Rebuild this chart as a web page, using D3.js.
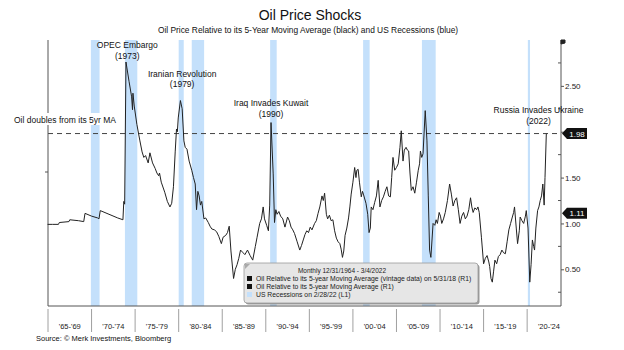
<!DOCTYPE html>
<html>
<head>
<meta charset="utf-8">
<script src="https://cdn.jsdelivr.net/npm/d3@7"></script>
<style>
body { margin: 0; background: #fff; }
text { font-family: "Liberation Sans", Arial, sans-serif; }
</style>
</head>
<body>
<script>
// oil price / 5yr moving average, monthly-ish readings
var years = [1964.95,1965.5,1966.2,1966.3,1967.4,1967.5,1968.5,1969.1,1969.25,1970.0,1970.7,1970.85,1971.0,1972.0,1973.0,1973.6,1973.7,1973.8,1973.95,
	1974.3,1974.6,1974.7,1974.75,1974.9,1975.2,1975.55,1975.8,1976.0,1976.2,1976.5,1976.7,1977.0,1977.3,1977.5,1977.7,1977.8,1978.0,1978.4,1978.7,
	1979.0,1979.2,1979.4,1979.6,1979.75,1979.85,1979.95,1980.2,1980.4,1980.6,1980.75,1980.95,1981.2,1981.5,1981.7,1981.9,1982.05,1982.2,1982.35,
	1982.5,1982.65,1982.9,1983.1,1983.4,1983.6,1983.8,1984.1,1984.35,1984.6,1984.9,1985.1,1985.4,1985.6,1985.8,1986.0,1986.3,1986.5,1986.7,1986.9,
	1987.1,1987.4,1987.6,1987.9,1988.2,1988.5,1988.8,1989.0,1989.3,1989.5,1989.7,1989.85,1990.1,1990.3,1990.45,1990.6,1990.85,1991.0,1991.15,1991.3,
	1991.5,1991.7,1991.95,1992.2,1992.5,1992.7,1992.9,1993.1,1993.3,1993.6,1993.9,1994.1,1994.3,1994.5,1994.7,1994.9,1995.1,1995.3,1995.6,1995.8,
	1996.0,1996.2,1996.45,1996.6,1996.75,1996.95,1997.1,1997.3,1997.5,1997.7,1997.9,1998.1,1998.3,1998.5,1998.65,1998.8,1998.95,1999.1,1999.3,
	1999.5,1999.65,1999.8,2000.0,2000.2,2000.35,2000.45,2000.6,2000.75,2000.96,2001.1,2001.2,2001.5,2001.7,2001.85,2002.0,2002.1,2002.3,2002.5,
	2002.7,2002.9,2003.1,2003.3,2003.5,2003.7,2003.9,2004.1,2004.3,2004.45,2004.6,2004.8,2005.0,2005.2,2005.4,2005.55,2005.75,2005.9,2006.1,
	2006.25,2006.4,2006.55,2006.7,2006.9,2007.1,2007.3,2007.5,2007.65,2007.75,2007.9,2008.05,2008.3,2008.5,2008.65,2008.8,2008.95,2009.2,2009.4,
	2009.55,2009.7,2009.9,2010.05,2010.2,2010.4,2010.6,2010.85,2011.1,2011.3,2011.5,2011.7,2011.9,2012.1,2012.3,2012.5,2012.7,2012.9,2013.1,
	2013.3,2013.5,2013.65,2013.8,2014.0,2014.2,2014.35,2014.5,2014.75,2015.0,2015.2,2015.4,2015.6,2015.7,2015.85,2016.0,2016.15,2016.3,2016.5,
	2016.7,2016.9,2017.1,2017.3,2017.5,2017.7,2017.9,2018.1,2018.3,2018.45,2018.55,2018.75,2018.9,2019.1,2019.2,2019.4,2019.6,2019.8,2019.9,
	2020.1,2020.3,2020.45,2020.6,2020.75,2020.85,2021.0,2021.2,2021.35,2021.5,2021.65,2021.8,2021.95,2022.05,2022.2];
var ratio = [0.99,0.99,0.99,1.01,1.02,1.04,1.03,1.02,1.11,1.08,1.06,1.05,1.14,1.10,1.06,1.04,1.24,1.21,2.76,
	2.55,2.38,2.24,2.42,2.28,2.08,1.90,1.78,1.72,1.74,1.66,1.77,1.66,1.60,1.55,1.52,1.55,1.45,1.34,1.24,
	1.18,1.22,1.40,1.78,2.03,2.00,2.15,2.34,2.25,1.90,1.83,1.81,1.68,1.58,1.50,1.43,1.15,1.35,1.30,
	1.20,1.24,1.05,1.06,1.01,0.97,0.94,0.93,0.91,0.86,0.78,0.85,0.87,0.90,0.97,0.70,0.40,0.50,0.55,0.62,
	0.71,0.68,0.66,0.71,0.65,0.60,0.75,0.85,1.00,1.05,1.18,1.05,0.98,0.92,1.20,2.10,1.54,1.01,1.15,1.10,
	1.13,1.08,1.05,0.96,1.07,1.03,0.96,0.93,0.89,0.80,0.71,0.76,0.82,0.88,0.92,0.90,0.96,0.93,1.00,1.03,
	1.11,1.18,1.30,1.25,1.33,1.10,1.05,1.09,1.03,1.04,0.92,0.84,0.80,0.78,0.72,0.63,0.70,0.87,0.95,
	1.06,1.18,1.32,1.45,1.61,1.50,1.58,1.59,1.45,1.29,1.35,1.32,1.22,1.10,0.90,0.95,1.18,1.15,1.23,
	1.30,1.47,1.18,1.25,1.29,1.35,1.40,1.30,1.29,1.50,1.72,1.58,1.61,1.65,1.83,2.01,1.68,1.80,1.83,
	1.80,1.79,1.55,1.36,1.40,1.33,1.45,1.58,1.65,1.79,1.72,1.76,2.23,1.90,1.30,0.71,0.63,1.00,0.98,
	1.04,1.00,1.12,1.08,1.00,1.05,1.12,1.25,1.43,1.32,1.19,1.25,1.28,1.15,1.00,1.08,1.12,1.05,1.08,
	1.15,1.28,1.18,1.12,1.17,1.15,1.18,1.12,0.85,0.56,0.62,0.65,0.58,0.53,0.40,0.36,0.48,0.60,0.56,
	0.64,0.66,0.71,0.68,0.67,0.80,0.93,1.00,1.07,1.12,1.18,0.95,0.78,0.92,1.07,1.03,1.00,1.08,1.14,
	0.95,0.36,0.55,0.82,0.75,0.71,0.95,1.14,1.18,1.25,1.30,1.43,1.20,1.50,1.98];

// US recessions
var recStart = [1969.92, 1973.83, 1980.0, 1981.5, 1990.5, 2001.17, 2007.92, 2020.08];
var recEnd = [1970.92, 1975.25, 1980.58, 1982.92, 1991.25, 2001.92, 2009.5, 2020.33];

var periodStart = [1965, 1970, 1975, 1980, 1985, 1990, 1995, 2000, 2005, 2010, 2015, 2020];
var periodLabels = ["'65-'69", "'70-'74", "'75-'79", "'80-'84", "'85-'89", "'90-'94", "'95-'99",
	"'00-'04", "'05-'09", "'10-'14", "'15-'19", "'20-'24"];

var yTicks = [0.5, 1.0, 1.5, 2.0, 2.5];
var yMinor = [0.25, 0.75, 1.25, 1.75, 2.25, 2.75];

var events = ["OPEC Embargo", "Iranian Revolution", "Iraq Invades Kuwait", "Russia Invades Ukraine"];
var eventYears = ["(1973)", "(1979)", "(1990)", "(2022)"];
var eventAt = [1974.1, 1980.4, 1990.6, 2021.3];
var eventVal = [2.91, 2.6, 2.28, 2.2];

var doubleLine = 1.98, lastVintage = 1.11;

var W = 624, H = 350;
var pL = 48, pR = 561, pT = 40, pB = 306;

var x = d3.scaleLinear()
	.domain([1965, 2024])
	.range([pL, pR + 1]);

var y = d3.scaleLinear()
	.domain([0.1, 3.0])
	.range([pB, pT]);

var svg = d3.select('body')
	.append('svg')
	.attr('width', W)
	.attr('height', H);

// title
svg.append('text')
	.attr('x', 310).attr('y', 20)
	.attr('text-anchor', 'middle')
	.attr('font-size', '14px')
	.attr('fill', '#111')
	.text('Oil Price Shocks');

svg.append('text')
	.attr('x', 308).attr('y', 33)
	.attr('text-anchor', 'middle')
	.attr('font-size', '8.4px')
	.attr('fill', '#111')
	.text('Oil Price Relative to its 5-Year Moving Average (black) and US Recessions (blue)');

// recession bars
svg.append('g').selectAll('rect')
	.data(recStart)
	.enter().append('rect')
		.attr('x', function(d) { return x(d); })
		.attr('y', pT)
		.attr('width', function(d, i) { return x(recEnd[i]) - x(d); })
		.attr('height', pB - pT)
		.attr('fill', '#c4e0fb');

// dashed "doubles" line
svg.append('line')
	.attr('x1', pL).attr('x2', pR)
	.attr('y1', y(doubleLine)).attr('y2', y(doubleLine))
	.attr('stroke', '#444')
	.attr('stroke-width', 1)
	.attr('stroke-dasharray', '5,4');

// axes frame
svg.append('line')
	.attr('x1', pL).attr('x2', pL)
	.attr('y1', pT).attr('y2', pB)
	.attr('stroke', '#555');
svg.append('line')
	.attr('x1', pL).attr('x2', pR)
	.attr('y1', pB).attr('y2', pB)
	.attr('stroke', '#555');
svg.append('line')
	.attr('x1', pL - 3).attr('x2', pL)
	.attr('y1', 172).attr('y2', 172)
	.attr('stroke', '#555');

// right axis (2.00 label sits under the 1.98 tag)
var yAxis = d3.axisRight(y)
	.tickValues(yTicks)
	.tickSize(3)
	.tickFormat(function(d) { return d == 2 ? '' : d3.format('.2f')(d); });

var ra = svg.append('g')
	.attr('transform', 'translate(' + pR + ',0)')
	.call(yAxis);
ra.select('.domain').attr('d', 'M0,' + pT + 'V' + pB).attr('stroke', '#555');
ra.selectAll('line').attr('stroke', '#555');
ra.selectAll('text')
	.attr('font-family', '"DejaVu Sans", sans-serif')
	.attr('font-size', '8px')
	.attr('fill', '#222')
	.attr('x', 4);

svg.append('g').selectAll('line')
	.data(yMinor)
	.enter().append('line')
		.attr('x1', pR - 3).attr('x2', pR)
		.attr('y1', function(d) { return y(d); })
		.attr('y2', function(d) { return y(d); })
		.attr('stroke', '#555');

svg.append('path')
	.attr('d', 'M' + pR + ',' + (pT + 4) + 'V' + pT + 'H' + (pR + 4) + 'V' + (pT + 3) + 'Z')
	.attr('fill', '#222').attr('stroke', '#222');

// bottom period separators + labels
svg.append('g').selectAll('line')
	.data(periodStart)
	.enter().append('line')
		.attr('x1', function(d) { return x(d); })
		.attr('x2', function(d) { return x(d); })
		.attr('y1', pB + 3).attr('y2', pB + 26)
		.attr('stroke', '#888')
		.attr('stroke-width', 0.8);

svg.append('g').selectAll('text')
	.data(periodStart)
	.enter().append('text')
		.attr('x', function(d) { return x(d + 2.5); })
		.attr('y', pB + 23)
		.attr('text-anchor', 'middle')
		.attr('font-family', '"DejaVu Sans", sans-serif')
		.attr('font-size', '7.5px')
		.attr('fill', '#222')
		.text(function(d, i) { return periodLabels[i]; });

// oil line
var line = d3.line()
	.x(function(d) { return x(d); })
	.y(function(d, i) { return y(ratio[i]); });

svg.append('path')
	.datum(years)
	.attr('d', line)
	.attr('fill', 'none')
	.attr('stroke', '#222')
	.attr('stroke-width', 1);

// event labels
var ev = svg.append('g');
ev.selectAll('text.name')
	.data(events)
	.enter().append('text')
		.attr('class', 'name')
		.attr('x', function(d, i) { return x(eventAt[i]); })
		.attr('y', function(d, i) { return y(eventVal[i]); })
		.attr('text-anchor', 'middle')
		.attr('font-size', '8.5px')
		.attr('fill', '#111')
		.text(function(d) { return d; });
ev.selectAll('text.yr')
	.data(eventYears)
	.enter().append('text')
		.attr('class', 'yr')
		.attr('x', function(d, i) { return x(eventAt[i]); })
		.attr('y', function(d, i) { return y(eventVal[i]) + 10.5; })
		.attr('text-anchor', 'middle')
		.attr('font-size', '8.5px')
		.attr('fill', '#111')
		.text(function(d) { return d; });

// "doubles" label with white backing over the left axis
svg.append('rect')
	.attr('x', 12).attr('y', 113).attr('width', 106).attr('height', 12)
	.attr('fill', '#fff');
svg.append('text')
	.attr('x', 14).attr('y', 123)
	.attr('font-size', '8.5px')
	.attr('fill', '#111')
	.text('Oil doubles from its 5yr MA');

// value tags on the right axis
var tags = [doubleLine, lastVintage];
svg.append('g').selectAll('path')
	.data(tags)
	.enter().append('path')
		.attr('d', function(d) {
			var c = y(d);
			return 'M' + (pR + 1) + ',' + c + 'L' + (pR + 6) + ',' + (c - 5.5) + 'H' + (pR + 26) +
				'V' + (c + 5.5) + 'H' + (pR + 6) + 'Z';
		})
		.attr('fill', '#111');
svg.append('g').selectAll('text')
	.data(tags)
	.enter().append('text')
		.attr('x', pR + 16)
		.attr('y', function(d) { return y(d) + 3; })
		.attr('text-anchor', 'middle')
		.attr('font-family', '"DejaVu Serif", serif')
		.attr('font-size', '8px')
		.attr('fill', '#fff')
		.text(function(d) { return d3.format('.2f')(d); });

// legend box
var lg = svg.append('g').attr('transform', 'translate(244,263)');
lg.append('rect')
	.attr('x', 1.5).attr('y', 1.5).attr('width', 234).attr('height', 40).attr('rx', 3)
	.attr('fill', '#9a9a9a');
lg.append('rect')
	.attr('width', 234).attr('height', 40).attr('rx', 3)
	.attr('fill', '#e6e6e6')
	.attr('stroke', '#999')
	.attr('stroke-width', 0.8);
lg.append('path').attr('d', 'M1,1h5l-5,5z').attr('fill', '#aaa');

var legendRows = ['Oil Relative to its 5-year Moving Average (vintage data) on 5/31/18 (R1)',
	'Oil Relative to its 5-year Moving Average (R1)',
	'US Recessions on 2/28/22 (L1)'];
var legendColors = ['#111', '#111', '#c4e0fb'];

lg.append('text')
	.attr('x', 98).attr('y', 10)
	.attr('text-anchor', 'middle')
	.attr('font-family', '"DejaVu Sans", sans-serif')
	.attr('font-size', '6.5px')
	.attr('fill', '#222')
	.text('Monthly 12/31/1964 - 3/4/2022');

lg.selectAll('rect.sw')
	.data(legendRows)
	.enter().append('rect')
		.attr('class', 'sw')
		.attr('x', 3).attr('y', function(d, i) { return 13 + i * 8; })
		.attr('width', 5).attr('height', 5)
		.attr('fill', function(d, i) { return legendColors[i]; });

lg.selectAll('text.row')
	.data(legendRows)
	.enter().append('text')
		.attr('class', 'row')
		.attr('x', 12).attr('y', function(d, i) { return 18 + i * 8; })
		.attr('font-family', '"DejaVu Sans", sans-serif')
		.attr('font-size', '6.8px')
		.attr('fill', '#222')
		.text(function(d) { return d; });

// source
svg.append('text')
	.attr('x', 36).attr('y', 341)
	.attr('font-size', '7.5px')
	.attr('fill', '#111')
	.text('Source: © Merk Investments, Bloomberg');
</script>
</body>
</html>
